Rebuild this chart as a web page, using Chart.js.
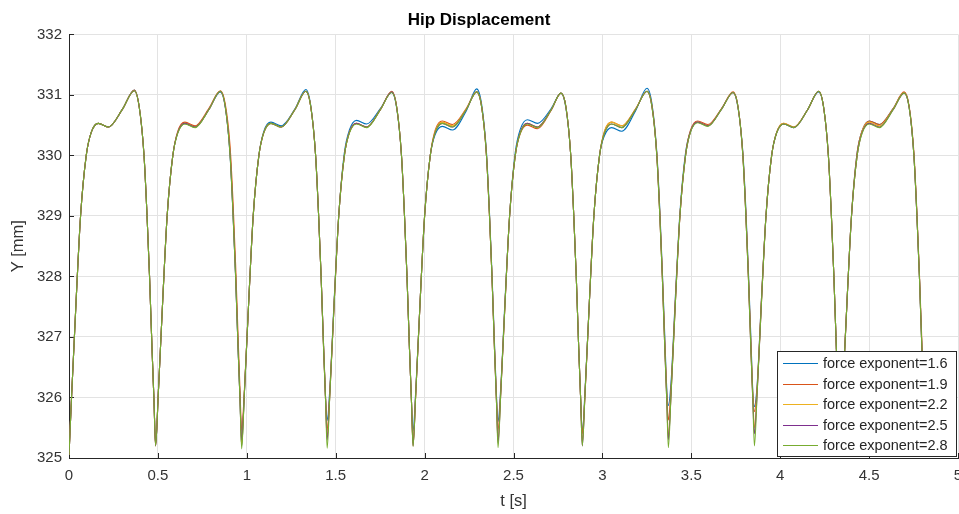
<!DOCTYPE html>
<html>
<head>
<meta charset="utf-8">
<script src="https://cdn.jsdelivr.net/npm/chart.js@4/dist/chart.umd.min.js"></script>
<style>
  html, body { margin: 0; padding: 0; background: #fff; }
  #wrap { width: 959px; height: 514px; }
</style>
</head>
<body>
<div id="wrap"><canvas id="hipChart"></canvas></div>
<script>
// time samples [s] (one cycle per line)
const t = [
    0.000, 0.015, 0.040, 0.065, 0.097, 0.125, 0.165, 0.222, 0.300, 0.367, 0.395, 0.422, 0.439, 0.453, 0.467, 0.478,
    0.487, 0.502, 0.527, 0.552, 0.584, 0.612, 0.652, 0.709, 0.787, 0.851, 0.879, 0.906, 0.923, 0.937, 0.951, 0.962,
    0.971, 0.986, 1.011, 1.036, 1.068, 1.096, 1.136, 1.193, 1.271, 1.332, 1.360, 1.387, 1.404, 1.418, 1.432, 1.443,
    1.452, 1.467, 1.492, 1.517, 1.549, 1.577, 1.617, 1.674, 1.752, 1.815, 1.843, 1.870, 1.887, 1.901, 1.915, 1.926,
    1.935, 1.950, 1.975, 2.000, 2.032, 2.060, 2.100, 2.157, 2.235, 2.293, 2.321, 2.348, 2.365, 2.379, 2.393, 2.404,
    2.413, 2.428, 2.453, 2.478, 2.510, 2.538, 2.578, 2.635, 2.713, 2.767, 2.795, 2.822, 2.839, 2.853, 2.867, 2.878,
    2.887, 2.902, 2.927, 2.952, 2.984, 3.012, 3.052, 3.109, 3.187, 3.251, 3.279, 3.306, 3.323, 3.337, 3.351, 3.362,
    3.371, 3.386, 3.411, 3.436, 3.468, 3.496, 3.536, 3.593, 3.671, 3.735, 3.763, 3.790, 3.807, 3.821, 3.835, 3.846,
    3.855, 3.870, 3.895, 3.920, 3.952, 3.980, 4.020, 4.077, 4.155, 4.216, 4.244, 4.271, 4.288, 4.302, 4.316, 4.327,
    4.336, 4.351, 4.376, 4.401, 4.433, 4.461, 4.501, 4.558, 4.636, 4.697, 4.725, 4.752, 4.769, 4.783, 4.797, 4.808,
    4.817
];

// hip Y [mm] for each force exponent
const yExp16 = [
    325.05, 326.05, 327.6, 329.0, 330.0, 330.38, 330.53, 330.47, 330.76, 331.08, 330.8, 330.0, 329.0, 328.0, 326.8, 325.95,
    325.22, 326.05, 327.6, 329.0, 330.0, 330.38, 330.53, 330.47, 330.76, 331.05, 330.8, 330.0, 329.0, 328.0, 326.8, 325.95,
    325.2, 326.05, 327.6, 329.0, 330.0, 330.4, 330.55, 330.49, 330.77, 331.09, 330.82, 330.0, 329.0, 328.0, 326.85, 326.0,
    325.62, 326.15, 327.65, 329.0, 330.05, 330.42, 330.58, 330.52, 330.78, 331.04, 330.78, 330.0, 329.0, 328.0, 326.8, 325.95,
    325.45, 326.1, 327.6, 329.0, 330.0, 330.35, 330.48, 330.42, 330.74, 331.1, 330.84, 330.05, 329.05, 328.05, 326.9, 326.05,
    325.6, 326.15, 327.65, 329.0, 330.05, 330.43, 330.59, 330.53, 330.78, 331.03, 330.78, 330.0, 329.0, 328.0, 326.8, 325.95,
    325.42, 326.1, 327.6, 329.0, 330.0, 330.33, 330.46, 330.4, 330.74, 331.11, 330.85, 330.05, 329.1, 328.1, 327.0, 326.15,
    325.87, 326.25, 327.7, 329.05, 330.05, 330.4, 330.55, 330.49, 330.77, 331.04, 330.78, 330.05, 329.1, 328.1, 327.0, 326.1,
    325.85, 326.2, 327.65, 329.0, 330.0, 330.38, 330.52, 330.46, 330.76, 331.05, 330.8, 330.0, 329.0, 328.0, 326.8, 325.95,
    325.4, 326.1, 327.6, 329.0, 330.05, 330.41, 330.57, 330.51, 330.78, 331.04, 330.8, 330.0, 329.0, 328.0, 326.8, 325.95,
    325.5
];
const yExp19 = [
    325.05, 326.05, 327.6, 329.0, 330.0, 330.38, 330.53, 330.47, 330.76, 331.08, 330.8, 330.0, 329.0, 328.0, 326.8, 325.95,
    325.2, 326.05, 327.6, 329.0, 330.0, 330.4, 330.55, 330.49, 330.78, 331.07, 330.85, 330.15, 329.2, 328.2, 327.0, 326.1,
    325.46, 326.1, 327.6, 329.0, 330.0, 330.38, 330.53, 330.47, 330.76, 331.06, 330.8, 330.0, 329.0, 328.0, 326.85, 326.0,
    325.46, 326.1, 327.6, 329.0, 330.0, 330.38, 330.53, 330.47, 330.76, 331.06, 330.8, 330.0, 329.0, 328.0, 326.8, 325.95,
    325.25, 326.05, 327.6, 329.0, 330.0, 330.42, 330.57, 330.51, 330.78, 331.05, 330.8, 330.0, 329.0, 328.0, 326.85, 326.0,
    325.46, 326.1, 327.6, 329.0, 330.0, 330.36, 330.5, 330.44, 330.75, 331.03, 330.8, 330.0, 329.0, 328.0, 326.8, 325.95,
    325.4, 326.05, 327.6, 329.0, 330.0, 330.4, 330.55, 330.49, 330.77, 331.06, 330.82, 330.02, 329.05, 328.05, 326.9, 326.05,
    325.63, 326.15, 327.65, 329.0, 330.02, 330.42, 330.57, 330.51, 330.78, 331.05, 330.8, 330.02, 329.05, 328.05, 326.9, 326.05,
    325.77, 326.15, 327.65, 329.0, 330.0, 330.38, 330.53, 330.47, 330.76, 331.06, 330.8, 330.0, 329.0, 328.0, 326.8, 325.95,
    325.35, 326.1, 327.6, 329.0, 330.05, 330.41, 330.57, 330.51, 330.78, 331.05, 330.82, 330.05, 329.05, 328.05, 326.9, 326.0,
    325.4
];
const yExp22 = [
    325.05, 326.05, 327.6, 329.0, 330.0, 330.38, 330.53, 330.47, 330.76, 331.07, 330.8, 330.0, 329.0, 328.0, 326.8, 325.95,
    325.22, 326.05, 327.6, 329.0, 330.0, 330.38, 330.53, 330.47, 330.76, 331.06, 330.82, 330.05, 329.05, 328.05, 326.85, 325.95,
    325.2, 326.05, 327.6, 329.0, 330.0, 330.38, 330.53, 330.47, 330.76, 331.06, 330.8, 330.0, 329.0, 328.0, 326.8, 325.95,
    325.35, 326.05, 327.6, 329.0, 330.0, 330.38, 330.53, 330.47, 330.76, 331.05, 330.8, 330.0, 329.0, 328.0, 326.8, 325.95,
    325.2, 326.05, 327.6, 329.0, 330.0, 330.4, 330.55, 330.49, 330.77, 331.05, 330.8, 330.0, 329.0, 328.0, 326.8, 325.95,
    325.3, 326.05, 327.6, 329.0, 330.0, 330.38, 330.53, 330.47, 330.76, 331.03, 330.8, 330.0, 329.0, 328.0, 326.8, 325.95,
    325.25, 326.05, 327.6, 329.0, 330.0, 330.4, 330.55, 330.49, 330.77, 331.06, 330.8, 330.0, 329.0, 328.0, 326.85, 326.0,
    325.35, 326.05, 327.6, 329.0, 330.0, 330.4, 330.55, 330.49, 330.77, 331.04, 330.8, 330.0, 329.0, 328.0, 326.85, 326.0,
    325.5, 326.1, 327.6, 329.0, 330.0, 330.38, 330.53, 330.47, 330.76, 331.06, 330.8, 330.0, 329.0, 328.0, 326.8, 325.95,
    325.3, 326.05, 327.6, 329.0, 330.0, 330.4, 330.55, 330.49, 330.77, 331.04, 330.8, 330.0, 329.0, 328.0, 326.8, 325.95,
    325.3
];
const yExp25 = [
    325.05, 326.05, 327.6, 329.0, 330.0, 330.38, 330.53, 330.47, 330.76, 331.07, 330.8, 330.0, 329.0, 328.0, 326.8, 325.95,
    325.2, 326.05, 327.6, 329.0, 330.0, 330.38, 330.53, 330.47, 330.76, 331.06, 330.8, 330.02, 329.02, 328.02, 326.82, 325.95,
    325.3, 326.05, 327.6, 329.0, 330.0, 330.38, 330.53, 330.47, 330.76, 331.06, 330.8, 330.0, 329.0, 328.0, 326.8, 325.95,
    325.3, 326.05, 327.6, 329.0, 330.0, 330.38, 330.53, 330.47, 330.76, 331.05, 330.8, 330.0, 329.0, 328.0, 326.8, 325.95,
    325.2, 326.05, 327.6, 329.0, 330.0, 330.38, 330.53, 330.47, 330.76, 331.05, 330.8, 330.0, 329.0, 328.0, 326.8, 325.95,
    325.25, 326.05, 327.6, 329.0, 330.0, 330.38, 330.53, 330.47, 330.76, 331.03, 330.8, 330.0, 329.0, 328.0, 326.8, 325.95,
    325.2, 326.05, 327.6, 329.0, 330.0, 330.37, 330.52, 330.46, 330.76, 331.06, 330.8, 330.0, 329.0, 328.0, 326.8, 325.95,
    325.3, 326.05, 327.6, 329.0, 330.0, 330.4, 330.55, 330.49, 330.77, 331.04, 330.8, 330.0, 329.0, 328.0, 326.8, 325.95,
    325.4, 326.05, 327.6, 329.0, 330.0, 330.37, 330.52, 330.46, 330.76, 331.06, 330.8, 330.0, 329.0, 328.0, 326.8, 325.95,
    325.25, 326.05, 327.6, 329.0, 330.0, 330.38, 330.53, 330.47, 330.76, 331.03, 330.8, 330.0, 329.0, 328.0, 326.8, 325.95,
    325.3
];
const yExp28 = [
    325.05, 326.05, 327.6, 329.0, 330.0, 330.38, 330.53, 330.47, 330.76, 331.07, 330.8, 330.0, 329.0, 328.0, 326.8, 325.95,
    325.2, 326.05, 327.6, 329.0, 330.0, 330.37, 330.52, 330.46, 330.76, 331.06, 330.8, 330.0, 329.0, 328.0, 326.8, 325.95,
    325.15, 326.05, 327.6, 329.0, 330.0, 330.38, 330.53, 330.47, 330.76, 331.06, 330.8, 330.0, 329.0, 328.0, 326.8, 325.95,
    325.16, 326.05, 327.6, 329.0, 330.0, 330.37, 330.52, 330.46, 330.76, 331.04, 330.8, 330.0, 329.0, 328.0, 326.8, 325.95,
    325.19, 326.05, 327.6, 329.0, 330.0, 330.38, 330.53, 330.47, 330.76, 331.05, 330.8, 330.0, 329.0, 328.0, 326.8, 325.95,
    325.17, 326.05, 327.6, 329.0, 330.0, 330.37, 330.52, 330.46, 330.76, 331.03, 330.8, 330.0, 329.0, 328.0, 326.8, 325.95,
    325.2, 326.05, 327.6, 329.0, 330.0, 330.37, 330.52, 330.46, 330.76, 331.06, 330.8, 330.0, 329.0, 328.0, 326.8, 325.95,
    325.17, 326.05, 327.6, 329.0, 330.0, 330.39, 330.54, 330.48, 330.77, 331.04, 330.8, 330.0, 329.0, 328.0, 326.8, 325.95,
    325.2, 326.05, 327.6, 329.0, 330.0, 330.37, 330.52, 330.46, 330.76, 331.06, 330.8, 330.0, 329.0, 328.0, 326.8, 325.95,
    325.2, 326.05, 327.6, 329.0, 330.0, 330.37, 330.52, 330.46, 330.76, 331.03, 330.8, 330.0, 329.0, 328.0, 326.8, 325.95,
    325.2
];

const seriesLabels = ['force exponent=1.6', 'force exponent=1.9', 'force exponent=2.2', 'force exponent=2.5', 'force exponent=2.8'];
const seriesValues = [yExp16, yExp19, yExp22, yExp25, yExp28];
const seriesColors = ['#0072BD', '#D95319', '#EDB120', '#7E2F8E', '#77AC30'];

const FONT = '"Liberation Sans", Arial, Helvetica, sans-serif';
const AXIS_COLOR = '#262626';

// MATLAB-like tick marks pointing into the axes
const innerTicks = {
    id: 'innerTicks',
    beforeDatasetsDraw(chart) {
        const { ctx, chartArea, scales } = chart;
        ctx.save();
        ctx.strokeStyle = AXIS_COLOR;
        ctx.lineWidth = 1;
        ctx.beginPath();
        scales.x.ticks.forEach(tk => {
            const px = Math.round(scales.x.getPixelForValue(tk.value)) + 0.5;
            ctx.moveTo(px, chartArea.bottom);
            ctx.lineTo(px, chartArea.bottom - 5);
        });
        scales.y.ticks.forEach(tk => {
            const py = Math.round(scales.y.getPixelForValue(tk.value)) + 0.5;
            ctx.moveTo(chartArea.left, py);
            ctx.lineTo(chartArea.left + 5, py);
        });
        ctx.stroke();
        ctx.restore();
    }
};

// boxed legend in the lower right corner, drawn over the lines
const insideLegend = {
    id: 'insideLegend',
    afterDatasetsDraw(chart) {
        const { ctx, chartArea } = chart;
        const w = 179, h = 105;
        const x0 = Math.round(chartArea.right - w - 2);
        const y0 = Math.round(chartArea.bottom - h - 2);
        ctx.save();
        ctx.fillStyle = '#fff';
        ctx.fillRect(x0, y0, w, h);
        ctx.strokeStyle = AXIS_COLOR;
        ctx.lineWidth = 1;
        ctx.strokeRect(x0 + 0.5, y0 + 0.5, w, h);
        ctx.font = '14.5px ' + FONT;
        ctx.textBaseline = 'middle';
        ctx.textAlign = 'left';
        chart.data.datasets.forEach((ds, i) => {
            const y = Math.round(y0 + 12 + i * 20.5) + 0.5;
            ctx.strokeStyle = ds.borderColor;
            ctx.lineWidth = 1;
            ctx.beginPath();
            ctx.moveTo(x0 + 6, y);
            ctx.lineTo(x0 + 41, y);
            ctx.stroke();
            ctx.fillStyle = AXIS_COLOR;
            ctx.fillText(ds.label, x0 + 46, y + 0.5);
        });
        ctx.restore();
    }
};

const tickText = v => String(Math.round(v * 10) / 10);

const datasets = seriesLabels.map((label, i) => ({
    label: label,
    data: t.map((tv, k) => ({ x: tv, y: seriesValues[i][k] })),
    borderColor: seriesColors[i],
    borderWidth: 1.1,
    pointRadius: 0,
    fill: false,
    cubicInterpolationMode: 'monotone',
    order: seriesLabels.length - i
}));

new Chart(document.getElementById('hipChart'), {
    type: 'line',
    data: { datasets: datasets },
    options: {
        responsive: true,
        maintainAspectRatio: false,
        animation: false,
        events: [],
        layout: { padding: { left: 0, right: 1, top: 0, bottom: 0 } },
        plugins: {
            legend: { display: false },
            tooltip: { enabled: false },
            title: {
                display: true,
                text: 'Hip Displacement',
                color: '#000',
                font: { family: FONT, size: 17, weight: 'bold' },
                padding: { top: 10, bottom: 4 }
            }
        },
        scales: {
            x: {
                type: 'linear',
                min: 0,
                max: 5,
                ticks: { stepSize: 0.5, color: '#333', font: { family: FONT, size: 15 }, padding: 9, maxRotation: 0, callback: tickText },
                grid: { color: '#e3e3e3', drawTicks: false },
                border: { color: AXIS_COLOR, width: 1 },
                title: { display: true, text: 't [s]', color: '#333', font: { family: FONT, size: 16.5 }, padding: { top: 0, bottom: 3 } },
                afterFit: s => { s.height = 56; s.paddingLeft = 0; s.paddingRight = 0; }
            },
            y: {
                min: 325,
                max: 332,
                ticks: { stepSize: 1, color: '#333', font: { family: FONT, size: 15 }, padding: 7, callback: tickText },
                grid: { color: '#e3e3e3', drawTicks: false },
                border: { color: AXIS_COLOR, width: 1 },
                title: { display: true, text: 'Y [mm]', color: '#333', font: { family: FONT, size: 16.5 }, padding: { top: 9, bottom: 0 } },
                afterFit: s => { s.width = 69; s.paddingTop = 0; s.paddingBottom = 0; }
            }
        }
    },
    plugins: [innerTicks, insideLegend]
});
</script>
</body>
</html>
